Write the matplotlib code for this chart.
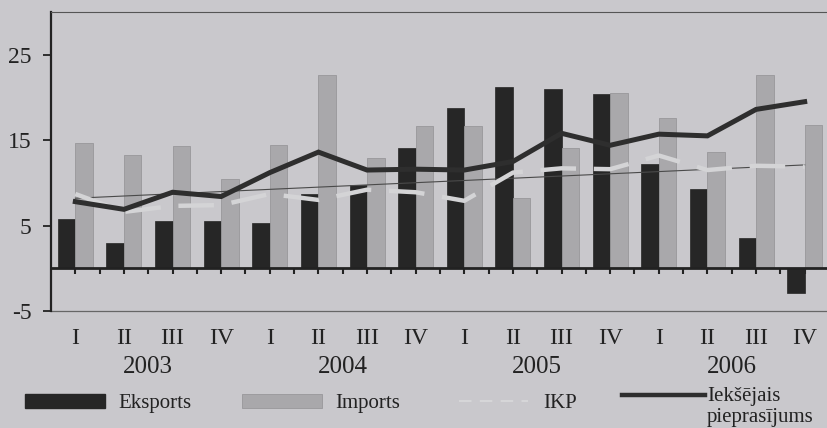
import numpy as np
import matplotlib.pyplot as plt
from matplotlib.patches import Rectangle
from matplotlib.lines import Line2D

quarter_labels = ['I', 'II', 'III', 'IV']
years = ['2003', '2004', '2005', '2006']

eksports = [5.8, 3.0, 5.5, 5.5, 5.3, 8.7, 9.8, 14.1,
            18.8, 21.2, 21.0, 20.4, 12.2, 9.3, 3.6, -2.9]
imports = [14.7, 13.3, 14.3, 10.4, 14.4, 22.6, 12.9, 16.6,
           16.6, 8.2, 14.1, 20.5, 17.6, 13.6, 22.6, 16.8]
ikp = [8.7, 6.6, 7.3, 7.4, 8.7, 8.0, 9.2, 8.9,
       7.9, 11.2, 11.7, 11.6, 13.2, 11.5, 12.0, 11.9]
iekseja = [7.8, 6.9, 8.9, 8.4, 11.2, 13.6, 11.5, 11.6,
           11.5, 12.5, 15.8, 14.4, 15.7, 15.5, 18.6, 19.5]
# thin trend line, start and end value
trend = [8.2, 12.1]

BG = '#c9c8cc'
DARK = '#262626'
LIGHT = '#a9a8ab'
plt.rcParams['font.family'] = ['Liberation Serif', 'DejaVu Serif']

W, H = 827, 428
fig = plt.figure(figsize=(W / 100, H / 100), dpi=100, facecolor=BG)


def fx(px):
    return px / W


def fy(py):
    return 1 - py / H


ax = fig.add_axes([fx(51), fy(311), fx(829 - 51), fy(12) - fy(311)])
ax.set_facecolor(BG)

n = len(eksports)
x = np.arange(n)
bw = 0.36
ax.bar(x - bw / 2, eksports, bw, color=DARK, edgecolor=DARK, lw=0.5, zorder=2)
ax.bar(x + bw / 2, imports, bw, color=LIGHT, edgecolor='#98979a', lw=0.6, zorder=2)

ax.plot([x[0], x[-1]], trend, color='#4a4a4a', lw=0.8, zorder=3)
ax.plot(x, ikp, color='#d4d4d6', lw=3.2, dashes=(8, 4), zorder=4)
ax.plot(x, iekseja, color='#2e2e2e', lw=3.6, solid_joinstyle='miter', zorder=5)

ax.set_xlim(-0.5, n - 0.5)
ax.set_ylim(-5, 30)

# axes styling
ax.spines['right'].set_visible(False)
ax.spines['top'].set_color('#555555')
ax.spines['top'].set_linewidth(0.8)
ax.spines['left'].set_color('#222222')
ax.spines['left'].set_linewidth(1.6)
ax.spines['bottom'].set_position(('data', 0))
ax.spines['bottom'].set_color('#222222')
ax.spines['bottom'].set_linewidth(2.0)
ax.spines['bottom'].set_zorder(6)
ax.axhline(-5, color='#666666', lw=0.9, clip_on=False)

ax.set_yticks([-5, 5, 15, 25])
ax.set_yticklabels(['-5', '5', '15', '25'], fontsize=17, color='#222222')
ax.tick_params(axis='y', direction='out', length=6, width=1.3, pad=8, color='#222222')

ax.set_xticks(x)
ax.set_xticks(x[:-1] + 0.5, minor=True)
ax.set_xticklabels([])
ax.tick_params(axis='x', which='both', direction='out', length=4, width=1.5, color='#222222')

for i in range(n):
    ax.annotate(quarter_labels[i % 4], xy=(x[i], 0), xycoords=('data', 'axes fraction'),
                xytext=(0, -19.5), textcoords='offset points', ha='center', va='center',
                fontsize=17, color='#222222')
for j, yr in enumerate(years):
    ax.annotate(yr, xy=(j * 4 + 1.5, 0), xycoords=('data', 'axes fraction'),
                xytext=(0, -40), textcoords='offset points', ha='center', va='center',
                fontsize=18, color='#222222')

# legend drawn by hand to follow the original layout
fig.add_artist(Rectangle((fx(25), fy(408)), fx(105) - fx(25), fy(394) - fy(408),
                         transform=fig.transFigure, color=DARK))
fig.text(fx(118), fy(408), 'Eksports', fontsize=15, color='#222222', va='baseline')
fig.add_artist(Rectangle((fx(242), fy(408)), fx(322) - fx(242), fy(394) - fy(408),
                         transform=fig.transFigure, facecolor=LIGHT, edgecolor='#98979a', lw=0.6))
fig.text(fx(335), fy(408), 'Imports', fontsize=15, color='#222222', va='baseline')
fig.add_artist(Line2D([fx(459), fx(528)], [fy(401), fy(401)], transform=fig.transFigure,
                      color='#d6d6d8', lw=1.5, dashes=(6, 4)))
fig.text(fx(543), fy(408), 'IKP', fontsize=15, color='#222222', va='baseline')
fig.add_artist(Line2D([fx(622), fx(705)], [fy(395), fy(395)], transform=fig.transFigure,
                      color='#2e2e2e', lw=3.2))
fig.text(fx(707), fy(401), 'Iekšējais', fontsize=15, color='#222222', va='baseline')
fig.text(fx(707), fy(422), 'pieprasījums', fontsize=15, color='#222222', va='baseline')

fig.savefig('out.png', dpi=100, facecolor=BG)
